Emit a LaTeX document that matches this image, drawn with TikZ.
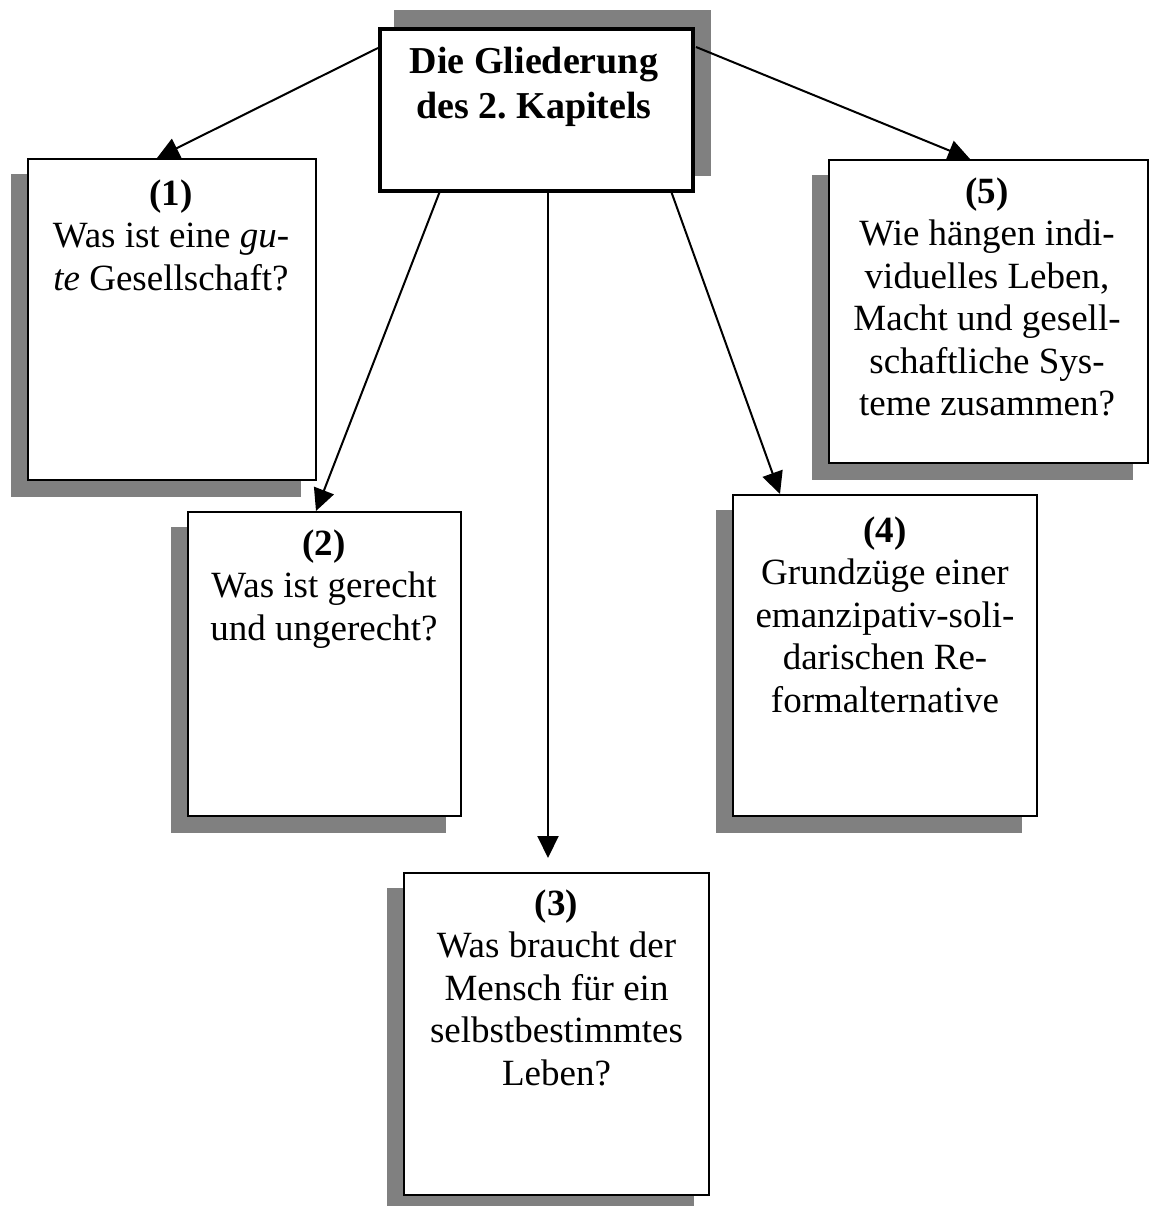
\documentclass[tikz,border=0pt]{standalone}
\usepackage{fontspec}
\setmainfont{Liberation Serif}
\usetikzlibrary{calc,arrows.meta,backgrounds}
\definecolor{shadowgray}{RGB}{128,128,128}
\frenchspacing
\begin{document}
\begin{tikzpicture}[x=1pt,y=-1pt,
  panel/.style={draw=black, fill=white, line width=2.5pt, inner sep=0pt, outer sep=0pt,
    anchor=north west},
  headpanel/.style={panel, line width=4pt},
  shade/.style={fill=shadowgray},
  txt/.style={align=center, inner sep=0pt, anchor=north,
    font=\fontsize{37}{42.5}\selectfont},
  headtxt/.style={txt, font=\fontsize{38}{45}\selectfont\bfseries},
  conn/.style={line width=2pt, -{Triangle[length=22pt,width=21pt]}}
]
\useasboundingbox (0,0) rectangle (1150,1206);

% boxes
\node[headpanel, minimum width=313pt, minimum height=162pt] (main) at (380,29) {};
\node[panel, minimum width=288pt, minimum height=321pt] (b1) at (28,159) {};
\node[panel, minimum width=273pt, minimum height=304pt] (b2) at (188,512) {};
\node[panel, minimum width=305pt, minimum height=322pt] (b3) at (404,873) {};
\node[panel, minimum width=304pt, minimum height=321pt] (b4) at (733,495) {};
\node[panel, minimum width=319pt, minimum height=303pt] (b5) at (829,160) {};

% offset shadows behind the boxes
\begin{pgfonlayer}{background}
  \fill[shade] ($(main.north west)+(14,-19)$) rectangle ($(main.south east)+(18,-15)$);
  \foreach \b in {b1,b2,b3,b4,b5}
    \fill[shade] ($(\b.north west)+(-17.25,14.75)$) rectangle ($(\b.south east)+(-14.75,17.25)$);
\end{pgfonlayer}

% texts
\node[headtxt] (tmain) at (534,41.5) {\strut Die Gliederung\\des 2. Kapitels};
\node[txt] (t1) at (171,175.25) {\strut\textbf{(1)}\\Was ist eine \textit{gu-}\\\textit{te} Gesellschaft?};
\node[txt] (t2) at (324,525.25) {\strut\textbf{(2)}\\Was ist gerecht\\und ungerecht?};
\node[txt] (t3) at (556.5,885.25) {\strut\textbf{(3)}\\Was braucht der\\Mensch für ein\\selbstbestimmtes\\Leben?};
\node[txt] (t4) at (885,512.25) {\strut\textbf{(4)}\\Grundzüge einer\\emanzipativ-soli-\\darischen Re-\\formalternative};
\node[txt] (t5) at (987,173.25) {\strut\textbf{(5)}\\Wie hängen indi-\\viduelles Leben,\\Macht und gesell-\\schaftliche Sys-\\teme zusammen?};

% connectors
\draw[conn] ($(main.north west)+(-2,19)$) -- ($(b1.north west)+(129,-1)$);
\draw[conn] ($(main.south west)+(60,0)$) -- ($(b2.north west)+(128,-1)$);
\draw[conn] ($(main.south west)+(168,0)$) -- ($(b3.north west)+(144,-15)$);
\draw[conn] ($(main.south west)+(291,0)$) -- ($(b4.north west)+(47,-1)$);
\draw[conn] ($(main.north east)+(3,18)$) -- ($(b5.north west)+(141,-1)$);
\end{tikzpicture}
\end{document}
